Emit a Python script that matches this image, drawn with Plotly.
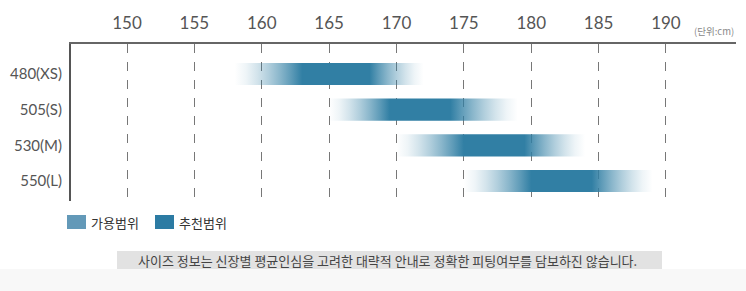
import plotly.graph_objects as go

sizes = ["480(XS)", "505(S)", "530(M)", "550(L)"]
avail_lo = [158, 165, 170, 175]
avail_hi = [172, 179, 184, 189]
rec_lo = [163, 169.5, 175, 180]
rec_hi = [168, 174, 179.5, 184.5]
x_ticks = [150, 155, 160, 165, 170, 175, 180, 185, 190]
legend_labels = ["가용범위", "추천범위"]
note = "사이즈 정보는 신장별 평균인심을 고려한 대략적 안내로 정확한 피팅여부를 담보하진 않습니다."
unit = "(단위:cm)"

DARK = (49, 127, 164)
BAR_H = 0.31

def rgba(c, a):
    return f"rgba({c[0]},{c[1]},{c[2]},{a:.3f})"

fig = go.Figure()
for i, name in enumerate(sizes):
    a0, a1, r0, r1 = avail_lo[i], avail_hi[i], rec_lo[i], rec_hi[i]
    span = a1 - a0
    f0 = (r0 - a0) / span
    f1 = (r1 - a0) / span
    cs = []
    steps = 6
    for s in range(steps):
        t = s / steps
        cs.append([f0 * t, rgba(DARK, t ** 1.4)])
    cs.append([f0, rgba(DARK, 1)])
    cs.append([f1, rgba(DARK, 1)])
    for s in range(1, steps + 1):
        t = s / steps
        cs.append([f1 + (1 - f1) * t, rgba(DARK, (1 - t) ** 1.4)])
    fig.add_trace(go.Scatter(
        x=[a0, a1, a1, a0, a0],
        y=[i - BAR_H, i - BAR_H, i + BAR_H, i + BAR_H, i - BAR_H],
        mode="lines", line=dict(width=0),
        fill="toself",
        fillgradient=dict(type="horizontal", colorscale=cs, start=a0, stop=a1),
        hoverinfo="skip", showlegend=False,
    ))

L, R, T, B = 71, 10, 44, 90
W, H = 746, 291
pw = W - L - R
ph = H - T - B

def px(x):
    return (x - L) / pw

def py(y):
    return (H - B - y) / ph

shapes = []
annotations = []
# legend
leg_colors = ["#6399B8", "#2C7BA3"]
leg_x = [67, 155]
for k in range(2):
    shapes.append(dict(type="rect", xref="paper", yref="paper",
                       x0=px(leg_x[k]), x1=px(leg_x[k] + 19), y0=py(229), y1=py(215),
                       fillcolor=leg_colors[k], line=dict(width=0)))
    annotations.append(dict(text=legend_labels[k], xref="paper", yref="paper",
                            x=px(leg_x[k] + 22), y=py(222), xanchor="left", yanchor="middle",
                            showarrow=False,
                            font=dict(family="Noto Sans CJK KR", size=13, color="#333")))
# bottom bands
shapes.append(dict(type="rect", xref="paper", yref="paper",
                   x0=px(0), x1=px(746), y0=py(291), y1=py(269),
                   fillcolor="#f8f8f8", line=dict(width=0), layer="below"))
shapes.append(dict(type="rect", xref="paper", yref="paper",
                   x0=px(117), x1=px(662), y0=py(269), y1=py(251),
                   fillcolor="#e2e2e2", line=dict(width=0), layer="below"))
annotations.append(dict(text=note, xref="paper", yref="paper",
                        x=px(387), y=py(260.5), xanchor="center", yanchor="middle",
                        showarrow=False,
                        font=dict(family="Noto Sans CJK KR", size=13, color="#444")))
annotations.append(dict(text=unit, xref="paper", yref="paper",
                        x=px(736), y=py(31), xanchor="right", yanchor="middle",
                        showarrow=False,
                        font=dict(family="Noto Sans CJK KR", size=9.5, color="#888")))

fig.update_layout(
    width=W, height=H,
    margin=dict(l=L, r=R, t=T, b=B, pad=0),
    paper_bgcolor="white", plot_bgcolor="white",
    showlegend=False,
    shapes=shapes, annotations=annotations,
    xaxis=dict(
        side="top", range=[145.84, 195.2],
        tickvals=x_ticks, ticktext=[str(v) for v in x_ticks],
        showgrid=True, gridcolor="#777", griddash="dash", gridwidth=1,
        showline=True, linecolor="#666", linewidth=2, mirror=False,
        ticks="", zeroline=False, ticklabelstandoff=6,
        tickfont=dict(family="Lato", size=17, color="#555"),
    ),
    yaxis=dict(
        range=[3.56, -0.84],
        tickvals=list(range(len(sizes))), ticktext=sizes,
        showgrid=False, showline=True, linecolor="#555", linewidth=2,
        ticks="", zeroline=False, ticklabelstandoff=4,
        tickfont=dict(family="Lato", size=15, color="#555"),
    ),
)

fig.write_html("out.html")
